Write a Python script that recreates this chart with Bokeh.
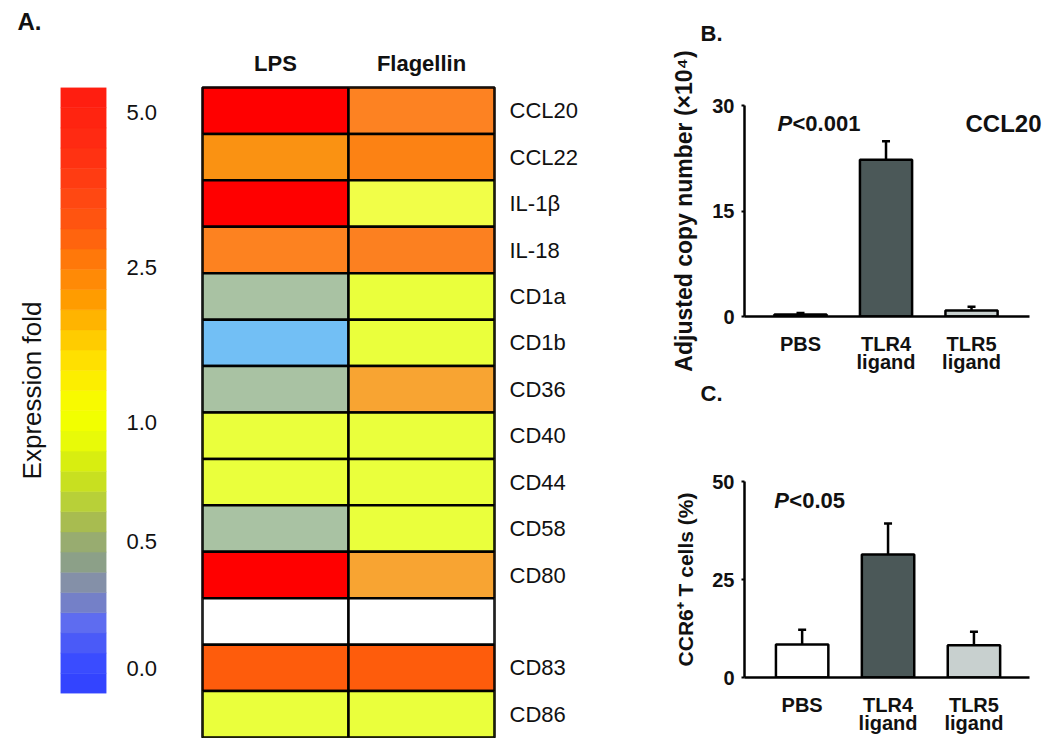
from bokeh.plotting import figure
from bokeh.layouts import row, column
from bokeh.models import (ColumnDataSource, FactorRange, Range1d, FixedTicker,
                          Label, Whisker, TeeHead, LinearAxis)
from bokeh.embed import file_html
from bokeh.resources import INLINE

FONT = "Liberation Sans"
INK = "#111111"

# ---------------- Panel A data ----------------
genes = ["CCL20", "CCL22", "IL-1β", "IL-18", "CD1a", "CD1b", "CD36",
         "CD40", "CD44", "CD58", "CD80", " ", "CD83", "CD86"]
treatments = ["LPS", "Flagellin"]
lps_colors = ["#ff0000", "#fa9212", "#ff0000", "#fd8220", "#a9c2a3", "#72bff5", "#a9c2a3",
              "#eaff3c", "#eaff3c", "#a9c2a3", "#ff0000", "#ffffff", "#fe5c0c", "#eaff3c"]
flag_colors = ["#fd8222", "#fc8214", "#f1fe48", "#fc8020", "#eaff3c", "#eaff3c", "#f8a432",
               "#eaff3c", "#eaff3c", "#eaff3c", "#f8a432", "#ffffff", "#fe5c0c", "#eaff3c"]

cb_tick_labels = ["0.0", "0.5", "1.0", "2.5", "5.0"]
cb_tick_pos = [25, 152, 271, 426, 581]          # position along the colour bar
cb_palette = ["#3344ff", "#3a4cff", "#4a5af8", "#5e6cf0", "#7480c8", "#8490a8",
              "#8ca088", "#98ac70", "#a8bc50", "#b8d038", "#c8e020", "#d8ee10",
              "#e8fa08", "#f2ff00", "#f8fa00", "#fcee00", "#ffe000", "#ffcc00",
              "#ffb400", "#ff9c00", "#ff8a06", "#ff780a", "#ff640e", "#ff5410",
              "#ff4812", "#ff3c12", "#ff3212", "#ff2a12", "#ff2410", "#ff1e10"]

# ---------------- Panels B / C data ----------------
groups = ["PBS", "TLR4 ligand", "TLR5 ligand"]
group_line1 = ["PBS", "TLR4", "TLR5"]
group_line2 = ["", "ligand", "ligand"]
ccl20_copies = [0.3, 22.3, 0.85]
ccl20_err = [0.2, 2.6, 0.55]
ccr6_pct = [8.4, 31.4, 8.2]
ccr6_err = [3.8, 7.9, 3.5]
bar_colors = ["#ffffff", "#4b5858", "#c8d0cf"]

CB_LEN = 606


def letter_fig(width, height, letter, size, offset, border_top, standoff):
    f = figure(width=width, height=height, x_range=Range1d(0, 1), y_range=Range1d(0, 1),
               output_backend="svg", toolbar_location=None,
               x_axis_location=None, y_axis_location=None,
               min_border_left=0, min_border_right=0, min_border_top=border_top,
               min_border_bottom=0)
    f.outline_line_color = None
    f.grid.visible = False
    f.title.text = letter
    f.title.align = "left"
    f.title.offset = offset
    f.title.standoff = standoff
    f.title.text_font = FONT
    f.title.text_font_size = size
    f.title.text_font_style = "bold"
    f.title.text_color = INK
    return f


# ---------------- colour bar ----------------
cb = figure(width=200, height=693, x_range=Range1d(0, 1), y_range=Range1d(0, CB_LEN),
            output_backend="svg", toolbar_location=None, title=None,
            x_axis_location=None, y_axis_location="right",
            min_border_left=60, min_border_right=94, min_border_top=42, min_border_bottom=45)
n = len(cb_palette)
seg = CB_LEN / n
cb.quad(left=0, right=1, bottom=[i * seg for i in range(n)], top=[(i + 1) * seg for i in range(n)],
        fill_color=cb_palette, line_color=cb_palette, line_width=0.5)
cb.outline_line_color = None
cb.grid.visible = False
ya = cb.yaxis[0]
ya.ticker = FixedTicker(ticks=cb_tick_pos)
ya.major_label_overrides = {p: l for p, l in zip(cb_tick_pos, cb_tick_labels)}
ya.axis_line_color = None
ya.major_tick_line_color = None
ya.minor_tick_line_color = None
ya.major_label_standoff = 14
ya.major_label_text_font = FONT
ya.major_label_text_font_size = "22px"
ya.major_label_text_color = INK
left_ax = LinearAxis(ticker=FixedTicker(ticks=[]), axis_label="Expression fold",
                     axis_line_color=None, major_tick_line_color=None, minor_tick_line_color=None,
                     axis_label_standoff=14, axis_label_text_font=FONT,
                     axis_label_text_font_size="26px", axis_label_text_font_style="normal",
                     axis_label_text_color=INK)
cb.add_layout(left_ax, "left")
la = letter_fig(200, 45, "A.", "24px", -43, 36, 4)

# ---------------- heat map ----------------
hm = figure(width=468, height=738, x_range=FactorRange(factors=treatments),
            y_range=FactorRange(factors=genes[::-1]),
            output_backend="svg", toolbar_location=None,
            x_axis_location="above", y_axis_location="right",
            min_border_left=2, min_border_right=174, min_border_top=87, min_border_bottom=1)
hm_src = ColumnDataSource(dict(
    x=["LPS"] * len(genes) + ["Flagellin"] * len(genes),
    y=genes + genes,
    c=lps_colors + flag_colors))
hm.rect(x="x", y="y", width=1, height=1, fill_color="c", line_color="black",
        line_width=2.5, source=hm_src)
hm.outline_line_color = "black"
hm.outline_line_width = 2.5
hm.grid.visible = False
for ax in (hm.xaxis[0], hm.yaxis[0]):
    ax.axis_line_color = None
    ax.major_tick_line_color = None
    ax.minor_tick_line_color = None
    ax.major_label_text_font = FONT
    ax.major_label_text_font_size = "22px"
    ax.major_label_text_color = INK
hm.xaxis[0].major_label_text_font_style = "bold"
hm.xaxis[0].major_label_standoff = 6
hm.yaxis[0].major_label_standoff = 9


def bar_panel(height, vals, errs, x0, x1, xaxis_end, ymax, yticks, ylabel, ylabel_size,
              top_b, bot_b, left_b):
    p = figure(width=374, height=height, title=None,
               x_range=Range1d(x0, x1), y_range=Range1d(0, ymax),
               output_backend="svg", toolbar_location=None,
               min_border_left=left_b, min_border_right=0, min_border_top=top_b,
               min_border_bottom=bot_b)
    xs = list(range(len(groups)))
    src = ColumnDataSource(dict(x=xs, top=vals,
                                upper=[v + e for v, e in zip(vals, errs)],
                                color=bar_colors))
    p.add_layout(Whisker(source=src, base="x", upper="upper", lower="top",
                         line_width=2.5, line_color="black",
                         upper_head=TeeHead(size=8, line_width=2.5, line_color="black"),
                         lower_head=None))
    p.vbar(x="x", top="top", width=0.61, fill_color="color", line_color="black",
           line_width=2.5, source=src)
    p.outline_line_color = None
    p.grid.visible = False
    xa = p.xaxis[0]
    xa.bounds = (x0, xaxis_end)
    xa.ticker = FixedTicker(ticks=xs)
    xa.axis_line_width = 2.5
    xa.axis_line_color = "black"
    xa.major_tick_line_color = None
    xa.minor_tick_line_color = None
    xa.major_tick_out = 0
    xa.major_tick_in = 0
    xa.major_label_overrides = dict(zip(xs, group_line1))
    xa.major_label_standoff = 16
    xa2 = LinearAxis(ticker=FixedTicker(ticks=xs),
                     major_label_overrides=dict(zip(xs, group_line2)),
                     axis_line_color=None, major_tick_line_color=None,
                     minor_tick_line_color=None, major_tick_out=0, major_tick_in=0,
                     major_label_standoff=-7)
    p.add_layout(xa2, "below")
    for a in (xa, xa2):
        a.major_label_text_font = FONT
        a.major_label_text_font_size = "20px"
        a.major_label_text_font_style = "bold"
        a.major_label_text_color = INK
    ya = p.yaxis[0]
    ya.ticker = FixedTicker(ticks=yticks)
    ya.axis_line_width = 2.5
    ya.major_tick_out = 3
    ya.major_tick_in = 0
    ya.major_tick_line_width = 2
    ya.minor_tick_line_color = None
    ya.major_label_standoff = 7
    ya.major_label_text_font = FONT
    ya.major_label_text_font_size = "20px"
    ya.major_label_text_font_style = "bold"
    ya.major_label_text_color = INK
    ya.axis_label = ylabel
    ya.axis_label_standoff = 12
    ya.axis_label_text_font = FONT
    ya.axis_label_text_font_size = ylabel_size
    ya.axis_label_text_font_style = "bold"
    ya.axis_label_text_color = INK
    return p


pb = bar_panel(325, ccl20_copies, ccl20_err, -0.655, 2.830, 2.678, 30, [0, 15, 30],
               "Adjusted copy number (×10⁴)", "23px", 55, 59, 76)
pc = bar_panel(323, ccr6_pct, ccr6_err, -0.671, 2.798, 2.647, 50, [0, 25, 50],
               "CCR6⁺ T cells (%)", "21px", 66, 61, 74)
lb = letter_fig(374, 50, "B.", "22px", -44, 48, 6)
lc = letter_fig(374, 40, "C.", "22px", -44, 32, 4)

lab = dict(text_font=FONT, text_color=INK, text_baseline="alphabetic")
pb.add_layout(Label(x=-0.269, y=27.44, text="P", text_font_size="22px",
                    text_font_style="bold italic", **lab))
pb.add_layout(Label(x=-0.269, y=27.44, x_offset=15, text="<0.001", text_font_size="22px",
                    text_font_style="bold", **lab))
pb.add_layout(Label(x=2.819, y=27.44, text="CCL20", text_font_size="24px",
                    text_font_style="bold", text_align="right", **lab))

pc.add_layout(Label(x=-0.324, y=45.15, text="P", text_font_size="22px",
                    text_font_style="bold italic", **lab))
pc.add_layout(Label(x=-0.324, y=45.15, x_offset=15, text="<0.05", text_font_size="22px",
                    text_font_style="bold", **lab))

layout = row(column(la, cb), hm, column(lb, pb, lc, pc))
open("out.html", "w").write(file_html(layout, INLINE))
